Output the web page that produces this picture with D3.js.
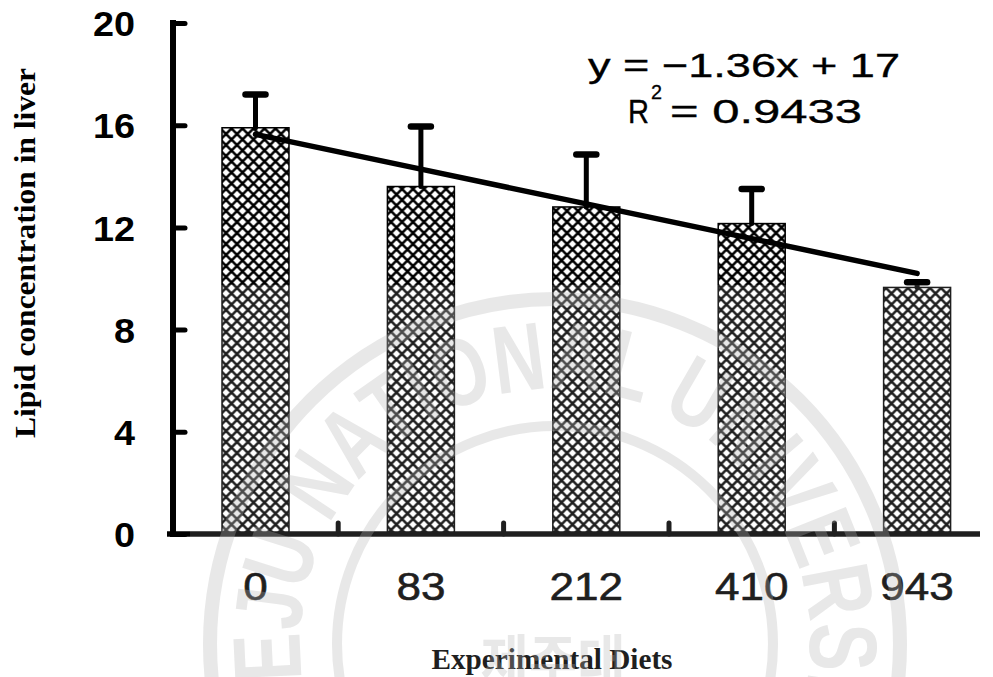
<!DOCTYPE html>
<html>
<head>
<meta charset="utf-8">
<script src="https://cdn.jsdelivr.net/npm/d3@7"></script>
<style>
  html, body { margin: 0; padding: 0; background: #fff; }
  svg { display: block; }
</style>
</head>
<body>
<svg id="chart" width="993" height="677"></svg>
<script>
// Liver lipid concentration by experimental diet (mean and SD)
const diets = ["0", "83", "212", "410", "943"];
const lipidMean = [15.9, 13.6, 12.8, 12.15, 9.65];
const lipidSD = [1.3, 2.35, 2.05, 1.35, 0.2];
const yTicks = [0, 4, 8, 12, 16, 20];

// Linear fit reported on the chart
const fitSlope = -1.36;
const fitIntercept = 17;
const fitR2 = 0.9433;

const svg = d3.select("#chart");

const x = d3.scaleBand()
  .domain(diets)
  .range([172.8, 999.8])
  .paddingInner(0.595)
  .paddingOuter(0.2975);

const y = d3.scaleLinear().domain([0, 20]).range([534, 23]);

// Cross-hatch fill: black ground with white diamond holes
const defs = svg.append("defs");
const pat = defs.append("pattern")
  .attr("id", "crosshatch")
  .attr("patternUnits", "userSpaceOnUse")
  .attr("width", 11).attr("height", 11)
  .attr("patternTransform", "translate(0.5,2)");
pat.append("rect").attr("width", 11).attr("height", 11).attr("fill", "#000");
const hd = 3.7;
[[0, 0], [11, 0], [0, 11], [11, 11], [5.5, 5.5]].forEach(([cx, cy]) => {
  pat.append("path")
    .attr("d", `M${cx},${cy - hd}L${cx + hd},${cy}L${cx},${cy + hd}L${cx - hd},${cy}Z`)
    .attr("fill", "#fff");
});

// Bars
svg.append("g").selectAll("rect")
  .data(diets)
  .join("rect")
  .attr("x", d => x(d))
  .attr("y", (d, i) => y(lipidMean[i]))
  .attr("width", x.bandwidth())
  .attr("height", (d, i) => y(0) - y(lipidMean[i]))
  .attr("fill", "url(#crosshatch)")
  .attr("stroke", "#000")
  .attr("stroke-width", 1.5);

// Error bars (upper side only)
const err = svg.append("g").attr("stroke", "#000").attr("stroke-linecap", "round");
diets.forEach((d, i) => {
  const cx = x(d) + x.bandwidth() / 2;
  const top = y(lipidMean[i] + lipidSD[i]);
  err.append("line")
    .attr("x1", cx).attr("x2", cx)
    .attr("y1", y(lipidMean[i])).attr("y2", top)
    .attr("stroke-width", 5);
  err.append("line")
    .attr("x1", cx - 10).attr("x2", cx + 10)
    .attr("y1", top).attr("y2", top)
    .attr("stroke-width", 6.5);
});

// Regression line across the five diets (x = 1..5)
const fitPts = diets.map((d, i) => [x(d) + x.bandwidth() / 2, y(fitSlope * (i + 1) + fitIntercept)]);
svg.append("path")
  .attr("d", d3.line()(fitPts))
  .attr("fill", "none")
  .attr("stroke", "#000")
  .attr("stroke-width", 5.5)
  .attr("stroke-linecap", "round");

// Y axis
const yAxis = svg.append("g")
  .attr("transform", "translate(173,0)")
  .call(d3.axisLeft(y).tickValues(yTicks).tickSizeInner(-12).tickSizeOuter(0).tickPadding(38));
yAxis.select(".domain")
  .attr("stroke", "#000").attr("stroke-width", 6)
  .attr("d", `M0,${y(20) - 3}V${y(0) + 3}`);
yAxis.selectAll(".tick line")
  .attr("stroke", "#000").attr("stroke-width", 5).attr("stroke-linecap", "round");
yAxis.selectAll(".tick text")
  .attr("fill", "#000")
  .style("font-family", "'Liberation Sans', Arial, sans-serif")
  .style("font-weight", "bold")
  .style("font-size", "35px")
  .attr("textLength", d => String(d).length * 21)
  .attr("lengthAdjust", "spacingAndGlyphs")
  .attr("dy", "0.36em");

// X axis
const xAxis = svg.append("g")
  .attr("transform", `translate(0,${y(0)})`)
  .call(d3.axisBottom(x).tickSize(0).tickPadding(0));
xAxis.select(".domain")
  .attr("stroke", "#000").attr("stroke-width", 5.5)
  .attr("d", "M167,0H980");
xAxis.selectAll(".tick text")
  .attr("fill", "#000")
  .attr("y", 66).attr("dy", 0)
  .style("font-family", "'Liberation Sans', Arial, sans-serif")
  .style("font-size", "39px")
  .attr("stroke", "#000").attr("stroke-width", 0.6)
  .attr("textLength", d => d.length * 24.5)
  .attr("lengthAdjust", "spacingAndGlyphs");

// Small upward ticks between categories
diets.slice(0, -1).forEach(d => {
  const bx = x(d) + x.bandwidth() + (x.step() - x.bandwidth()) / 2;
  svg.append("line")
    .attr("x1", bx).attr("x2", bx)
    .attr("y1", y(0)).attr("y2", y(0) - 11)
    .attr("stroke", "#000").attr("stroke-width", 5).attr("stroke-linecap", "round");
});

// Axis titles
svg.append("text")
  .attr("transform", "translate(35,253) rotate(-90)")
  .attr("text-anchor", "middle")
  .attr("textLength", 370)
  .attr("lengthAdjust", "spacingAndGlyphs")
  .style("font-family", "'Liberation Serif', 'Times New Roman', serif")
  .style("font-weight", "bold")
  .style("font-size", "30px")
  .text("Lipid concentration in liver");

svg.append("text")
  .attr("x", 552).attr("y", 669)
  .attr("text-anchor", "middle")
  .attr("textLength", 241)
  .attr("lengthAdjust", "spacingAndGlyphs")
  .style("font-family", "'Liberation Serif', 'Times New Roman', serif")
  .style("font-weight", "bold")
  .style("font-size", "29px")
  .text("Experimental Diets");

// Fit equation and R²
const eqFont = "'Liberation Sans', Arial, sans-serif";
svg.append("text")
  .attr("x", 588).attr("y", 77)
  .attr("textLength", 312)
  .attr("lengthAdjust", "spacingAndGlyphs")
  .attr("stroke", "#000").attr("stroke-width", 0.35)
  .style("font-family", eqFont).style("font-size", "34px")
  .text(`y = \u2212${Math.abs(fitSlope)}x + ${fitIntercept}`);

svg.append("text")
  .attr("x", 628).attr("y", 123)
  .attr("textLength", 21)
  .attr("lengthAdjust", "spacingAndGlyphs")
  .attr("stroke", "#000").attr("stroke-width", 0.35)
  .style("font-family", eqFont).style("font-size", "33px")
  .text("R");
svg.append("text")
  .attr("x", 651).attr("y", 99)
  .attr("textLength", 11)
  .attr("lengthAdjust", "spacingAndGlyphs")
  .attr("stroke", "#000").attr("stroke-width", 0.3)
  .style("font-family", eqFont).style("font-size", "20px")
  .text("2");
svg.append("text")
  .attr("x", 670).attr("y", 123)
  .attr("textLength", 192)
  .attr("lengthAdjust", "spacingAndGlyphs")
  .attr("stroke", "#000").attr("stroke-width", 0.35)
  .style("font-family", eqFont).style("font-size", "33px")
  .text(`= ${fitR2}`);

// Faint university seal printed over the lower part of the page
svg.append("rect")
  .attr("x", 190).attr("y", 285).attr("width", 803).attr("height", 392)
  .attr("fill", "#fff").attr("opacity", 0.12);

const sealC = [555, 644];
const seal = svg.append("g").attr("opacity", 0.3);
seal.append("circle")
  .attr("cx", sealC[0]).attr("cy", sealC[1]).attr("r", 345)
  .attr("fill", "none").attr("stroke", "#b4b4b4").attr("stroke-width", 14);
seal.append("circle")
  .attr("cx", sealC[0]).attr("cy", sealC[1]).attr("r", 218)
  .attr("fill", "none").attr("stroke", "#b4b4b4").attr("stroke-width", 10);

const rText = 255;
const a0 = 197 * Math.PI / 180, a1 = -31 * Math.PI / 180;
const p0 = [sealC[0] + rText * Math.cos(a0), sealC[1] - rText * Math.sin(a0)];
const p1 = [sealC[0] + rText * Math.cos(a1), sealC[1] - rText * Math.sin(a1)];
defs.append("path")
  .attr("id", "sealArc")
  .attr("d", `M${p0[0]},${p0[1]}A${rText},${rText} 0 1 1 ${p1[0]},${p1[1]}`);
seal.append("text")
  .attr("fill", "#b4b4b4")
  .style("font-family", "'Liberation Sans', Arial, sans-serif")
  .style("font-weight", "bold")
  .style("font-size", "96px")
  .append("textPath")
  .attr("href", "#sealArc")
  .attr("textLength", rText * (a0 - a1))
  .attr("lengthAdjust", "spacingAndGlyphs")
  .text("JEJU NATIONAL UNIVERSITY");

seal.append("text")
  .attr("x", 553).attr("y", 683)
  .attr("text-anchor", "middle")
  .attr("textLength", 145)
  .attr("lengthAdjust", "spacingAndGlyphs")
  .attr("fill", "#b4b4b4")
  .style("font-family", "'Noto Sans CJK KR', sans-serif")
  .style("font-weight", "bold")
  .style("font-size", "58px")
  .text("제주대");
</script>
</body>
</html>
